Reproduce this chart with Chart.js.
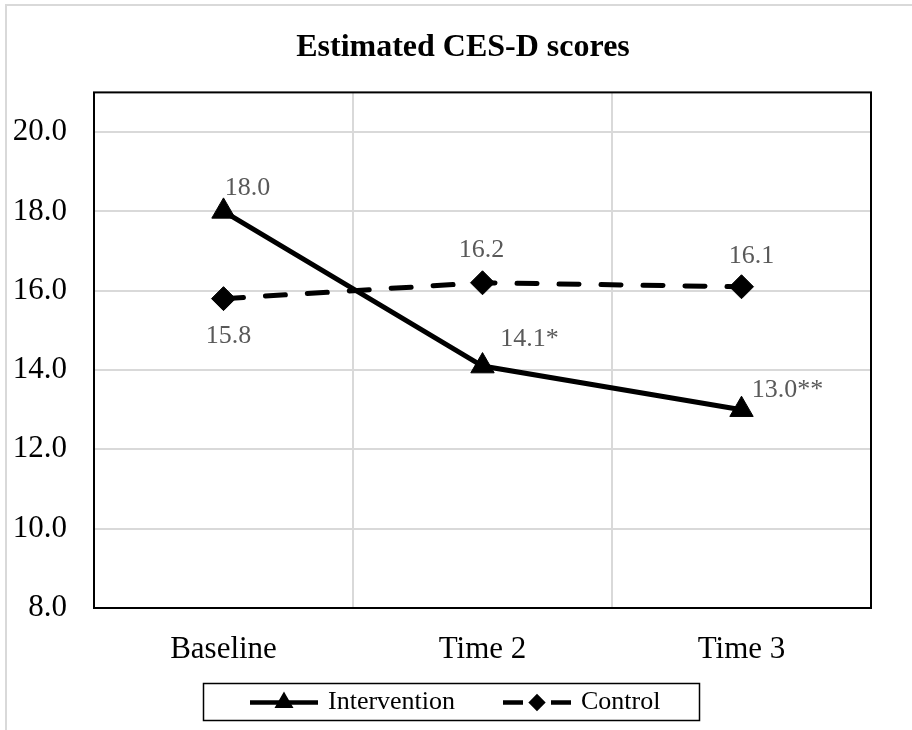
<!DOCTYPE html>
<html>
<head>
<meta charset="utf-8">
<script src="https://cdn.jsdelivr.net/npm/chart.js@4.4.0/dist/chart.umd.min.js"></script>
<style>
html, body { margin: 0; padding: 0; background: #fff; }
#wrap { width: 912px; height: 730px; }
</style>
</head>
<body>
<div id="wrap"><canvas id="myChart" width="912" height="730"></canvas></div>
<script>
// data
var categories = ['Baseline', 'Time 2', 'Time 3'];
var seriesNames = ['Intervention', 'Control'];
var intervention = [18.0, 14.1, 13.0];
var control = [15.8, 16.2, 16.1];
var interventionLabels = ['18.0', '14.1*', '13.0**'];
var controlLabels = ['15.8', '16.2', '16.1'];
var yTicks = [8, 10, 12, 14, 16, 18, 20];

var SERIF = '"Liberation Serif", "Times New Roman", serif';

// light grey frame round the whole figure
var framePlugin = {
    id: 'frame',
    beforeDraw: function(chart) {
        var ctx = chart.ctx;
        ctx.save();
        ctx.fillStyle = '#fff';
        ctx.fillRect(0, 0, chart.width, chart.height);
        ctx.strokeStyle = '#d9d9d9';
        ctx.lineWidth = 2;
        ctx.strokeRect(6, 5, 1200, 1200);
        ctx.restore();
    }
};

// black box round the plot area
var plotBorder = {
    id: 'plotBorder',
    beforeDatasetsDraw: function(chart) {
        var a = chart.chartArea, ctx = chart.ctx;
        ctx.save();
        ctx.strokeStyle = '#000';
        ctx.lineWidth = 2;
        ctx.strokeRect(a.left, a.top, a.right - a.left, a.bottom - a.top);
        ctx.restore();
    }
};

// value labels next to the points
var pointLabels = {
    id: 'pointLabels',
    afterDatasetsDraw: function(chart, args, opts) {
        var ctx = chart.ctx;
        ctx.save();
        ctx.font = '26px ' + SERIF;
        ctx.fillStyle = '#595959';
        ctx.textAlign = 'center';
        ctx.textBaseline = 'middle';
        chart.data.datasets.forEach(function(ds, i) {
            var meta = chart.getDatasetMeta(i);
            meta.data.forEach(function(pt, j) {
                var off = opts.offsets[i][j];
                ctx.fillText(ds.pointText[j], pt.x + off[0], pt.y + off[1]);
            });
        });
        ctx.restore();
    }
};

// Excel style legend: line + marker, inside a box
var boxLegend = {
    id: 'boxLegend',
    afterDraw: function(chart) {
        var ctx = chart.ctx;
        var box = { x: 203, y: 683, w: 496, h: 37 };
        var cy = box.y + box.h / 2 + 1;
        ctx.save();
        ctx.strokeStyle = '#000';
        ctx.lineWidth = 1.5;
        ctx.strokeRect(box.x + 0.5, box.y + 0.5, box.w, box.h);
        ctx.font = '26px ' + SERIF;
        ctx.textBaseline = 'middle';
        ctx.textAlign = 'left';
        ctx.fillStyle = '#000';

        var starts = [250, 503];
        chart.data.datasets.forEach(function(ds, i) {
            var x0 = starts[i];
            var len = 68;
            ctx.lineWidth = 4.5;
            ctx.lineCap = 'butt';
            ctx.strokeStyle = '#000';
            if (i == 0) {
                ctx.beginPath();
                ctx.moveTo(x0, cy);
                ctx.lineTo(x0 + len, cy);
                ctx.stroke();
            } else {
                ctx.beginPath();
                ctx.moveTo(x0, cy);
                ctx.lineTo(x0 + 20, cy);
                ctx.moveTo(x0 + len - 20, cy);
                ctx.lineTo(x0 + len, cy);
                ctx.stroke();
            }
            Chart.helpers.drawPoint(ctx, {
                pointStyle: ds.pointStyle,
                radius: i == 0 ? 6.5 : 5.5,
                rotation: 0,
                borderWidth: 1
            }, x0 + len / 2, cy);
            ctx.fillStyle = '#000';
            ctx.fillText(ds.label, x0 + len + 10, cy);
        });
        ctx.restore();
    }
};

var data_things = {
    labels: categories,
    datasets: [{
        label: seriesNames[0],
        data: intervention,
        pointText: interventionLabels,
        borderColor: '#000',
        backgroundColor: '#000',
        borderWidth: 5,
        pointStyle: 'triangle',
        pointRadius: 13.5,
        pointHoverRadius: 13.5,
        pointBorderWidth: 1,
        tension: 0
    }, {
        label: seriesNames[1],
        data: control,
        pointText: controlLabels,
        borderColor: '#000',
        backgroundColor: '#000',
        borderWidth: 5,
        borderDash: [20, 22],
        borderCapStyle: 'round',
        pointStyle: 'rectRot',
        pointRadius: 12,
        pointHoverRadius: 12,
        pointBorderWidth: 1,
        tension: 0
    }]
};

var config = {
    type: 'line',
    data: data_things,
    options: {
        responsive: false,
        animation: false,
        events: [],
        layout: { padding: { left: 14, right: 0, top: 0, bottom: 0 } },
        plugins: {
            legend: { display: false },
            tooltip: { enabled: false },
            title: {
                display: true,
                text: 'Estimated CES-D scores',
                color: '#000',
                font: { family: SERIF, size: 32, weight: 'bold' },
                padding: { top: 29, bottom: 25 }
            },
            pointLabels: {
                offsets: [
                    [[24, -23], [47, -27], [46, -20]],
                    [[5, 38], [-1, -33], [10, -31]]
                ]
            }
        },
        scales: {
            x: {
                type: 'category',
                offset: true,
                grid: { offset: true, color: '#d9d9d9', lineWidth: 2, drawTicks: false },
                border: { display: false },
                ticks: { color: '#000', padding: 23, font: { family: SERIF, size: 31 } },
                afterFit: function(scale) { scale.height = 122; }
            },
            y: {
                min: 8,
                max: 21,
                grid: { color: '#d9d9d9', lineWidth: 2, drawTicks: false },
                border: { display: false },
                ticks: {
                    color: '#000',
                    padding: 27,
                    font: { family: SERIF, size: 31 },
                    callback: function(v) { return v.toFixed(1); }
                },
                afterBuildTicks: function(scale) {
                    scale.ticks = yTicks.map(function(v) { return { value: v }; });
                },
                afterFit: function(scale) { scale.width = 80; }
            },
            // empty right-hand axis, only keeps space right of the plot
            yRight: {
                position: 'right',
                min: 8,
                max: 21,
                grid: { display: false, drawTicks: false },
                border: { display: false },
                ticks: { display: false },
                afterFit: function(scale) { scale.width = 41; }
            }
        }
    },
    plugins: [framePlugin, plotBorder, pointLabels, boxLegend]
};

var myChart = new Chart(document.getElementById('myChart'), config);
</script>
</body>
</html>
